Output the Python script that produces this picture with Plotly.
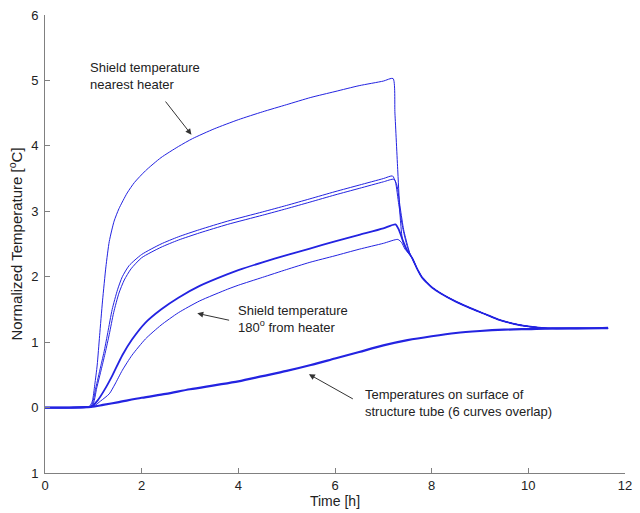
import plotly.graph_objects as go

# Common cool-down tail shared by all shield curves after heater switch-off
decay_t = [7.6, 7.7, 7.8, 7.9, 8.0, 8.2, 8.5, 8.8, 9.1, 9.4, 9.7, 10.0, 10.4, 11.0, 11.65]
decay_v = [2.28, 2.12, 1.99, 1.91, 1.84, 1.74, 1.62, 1.52, 1.43, 1.34, 1.28, 1.24, 1.21, 1.21, 1.21]

# Shield temperature nearest heater
near_t = [0, 0.5, 0.92, 0.98, 1.03, 1.08, 1.13, 1.19, 1.26, 1.33, 1.43, 1.53, 1.7, 1.85, 2.08,
          2.4, 2.76, 3.05, 3.5, 4.0, 4.5, 5.0, 5.5, 6.0, 6.5, 7.0, 7.2, 7.24, 7.3, 7.35, 7.4, 7.5]
near_v = [0, 0, 0.02, 0.1, 0.35, 0.65, 1.1, 1.63, 2.15, 2.54, 2.85, 3.04, 3.28, 3.44, 3.62,
          3.82, 3.99, 4.11, 4.26, 4.40, 4.52, 4.63, 4.74, 4.83, 4.92, 4.99, 5.03, 4.5, 3.6, 2.9, 2.55, 2.38]

# Intermediate shield positions (upper pair)
mid1_t = [0, 0.5, 0.95, 1.05, 1.15, 1.23, 1.3, 1.39, 1.5, 1.6, 1.74, 2.0, 2.4, 2.76, 3.2, 3.78,
          4.5, 5.0, 5.48, 6.0, 6.5, 7.0, 7.19, 7.25, 7.32, 7.4, 7.48, 7.56]
mid1_v = [0, 0, 0.02, 0.3, 0.62, 0.88, 1.15, 1.5, 1.8, 2.0, 2.17, 2.34, 2.50, 2.61, 2.72, 2.85,
          2.99, 3.09, 3.19, 3.30, 3.40, 3.50, 3.54, 3.45, 3.1, 2.75, 2.5, 2.33]
mid2_t = [0, 0.5, 0.97, 1.07, 1.17, 1.25, 1.33, 1.42, 1.53, 1.64, 1.78, 2.0, 2.4, 2.76, 3.2, 3.78,
          4.5, 5.0, 5.48, 6.0, 6.5, 7.0, 7.22, 7.28, 7.35, 7.42, 7.5, 7.56]
mid2_v = [0, 0, 0.02, 0.3, 0.6, 0.85, 1.12, 1.45, 1.75, 1.95, 2.12, 2.29, 2.45, 2.56, 2.67, 2.80,
          2.94, 3.04, 3.14, 3.25, 3.35, 3.45, 3.49, 3.4, 3.05, 2.72, 2.48, 2.33]

# Lower shield positions (two overlapping curves, then 180 deg from heater)
low_t = [0, 0.5, 0.97, 1.1, 1.27, 1.4, 1.6, 1.8, 2.08, 2.4, 2.76, 3.2, 3.78, 4.0, 4.5, 5.0,
         5.48, 6.0, 6.5, 7.0, 7.25, 7.32, 7.4, 7.48, 7.56]
low_v = [0, 0, 0.02, 0.12, 0.32, 0.50, 0.80, 1.04, 1.30, 1.50, 1.68, 1.86, 2.04, 2.10, 2.22, 2.33,
         2.43, 2.54, 2.64, 2.74, 2.80, 2.72, 2.56, 2.42, 2.33]
far_t = [0, 0.5, 1.0, 1.15, 1.33, 1.45, 1.6, 1.8, 2.08, 2.4, 2.76, 3.2, 3.78, 4.0, 4.5, 5.0,
         5.48, 6.0, 6.5, 7.0, 7.3, 7.38, 7.45, 7.56]
far_v = [0, 0, 0.02, 0.1, 0.21, 0.36, 0.57, 0.8, 1.05, 1.26, 1.45, 1.63, 1.81, 1.87, 1.99, 2.11,
         2.22, 2.32, 2.42, 2.51, 2.57, 2.52, 2.42, 2.33]

# Structure tube surface temperatures (6 overlapping curves)
tube_t = [0, 0.5, 0.95, 1.2, 1.5, 2.0, 2.5, 3.0, 3.5, 4.0, 4.5, 5.0, 5.5, 6.0, 6.5, 7.0, 7.5,
          8.0, 8.5, 9.0, 9.5, 10.0, 10.5, 11.0, 11.65]
tube_v = [0, 0, 0.01, 0.04, 0.08, 0.15, 0.21, 0.28, 0.34, 0.40, 0.48, 0.56, 0.65, 0.75, 0.85,
          0.95, 1.03, 1.09, 1.14, 1.17, 1.19, 1.20, 1.21, 1.21, 1.22]

x_ticks = [0, 2, 4, 6, 8, 10, 12]
y_ticks = [-1, 0, 1, 2, 3, 4, 5, 6]
y_ticktext = ["1", "0", "1", "2", "3", "4", "5", "6"]

BLUE = "rgb(35,35,225)"
FAMILY = "Liberation Sans, Arial, sans-serif"
TEXT = "#222222"

fig = go.Figure()
shield = [(near_t, near_v, 1.0), (mid1_t, mid1_v, 1.0), (mid2_t, mid2_v, 1.0),
          (low_t, low_v, 1.8), (far_t, far_v, 1.0)]
for t, v, w in shield:
    fig.add_trace(go.Scatter(x=t + decay_t, y=v + decay_v, mode="lines",
                             line=dict(color=BLUE, width=w, shape="spline", smoothing=0.6),
                             showlegend=False))
fig.add_trace(go.Scatter(x=tube_t, y=tube_v, mode="lines",
                         line=dict(color=BLUE, width=2.2, shape="spline", smoothing=0.8),
                         showlegend=False))

labels = [
    (0.88, 5.07, "Shield temperature<br>nearest heater"),
    (3.95, 1.36, "Shield temperature<br>180<sup>o</sup> from heater"),
    (6.58, 0.07, "Temperatures on surface of<br>structure tube (6 curves overlap)"),
]
for x, y, txt in labels:
    fig.add_annotation(x=x, y=y, text=txt, showarrow=False, xanchor="left",
                       yanchor="middle", align="left",
                       font=dict(family=FAMILY, size=13, color=TEXT))

arrows = [
    ((2.47, 4.70), (3.03, 4.17)),
    ((3.84, 1.33), (3.15, 1.44)),
    ((6.40, 0.12), (5.46, 0.51)),
]
for (tx, ty), (hx, hy) in arrows:
    fig.add_annotation(x=hx, y=hy, ax=tx, ay=ty, axref="x", ayref="y", xref="x", yref="y",
                       text="", showarrow=True, arrowhead=2, arrowsize=1.2,
                       arrowwidth=1, arrowcolor="#333333")

axis_common = dict(showline=True, linecolor="#808080", linewidth=1, ticks="inside",
                   ticklen=5, tickcolor="#808080", showgrid=False, zeroline=False,
                   mirror=False, tickfont=dict(family=FAMILY, size=13, color=TEXT))

fig.update_xaxes(range=[0, 12], tickvals=x_ticks,
                 title=dict(text="Time [h]", standoff=3,
                            font=dict(family=FAMILY, size=14, color=TEXT)),
                 **axis_common)
fig.update_yaxes(range=[-1, 6], tickvals=y_ticks, ticktext=y_ticktext, ticklabelstandoff=3,
                 title=dict(text="Normalized Temperature [<sup>o</sup>C]", standoff=4,
                            font=dict(family=FAMILY, size=15, color=TEXT)),
                 **axis_common)

fig.update_layout(width=640, height=513, margin=dict(l=45, r=8, t=14, b=37),
                  plot_bgcolor="white", paper_bgcolor="white", showlegend=False)

fig.write_html("out.html")
